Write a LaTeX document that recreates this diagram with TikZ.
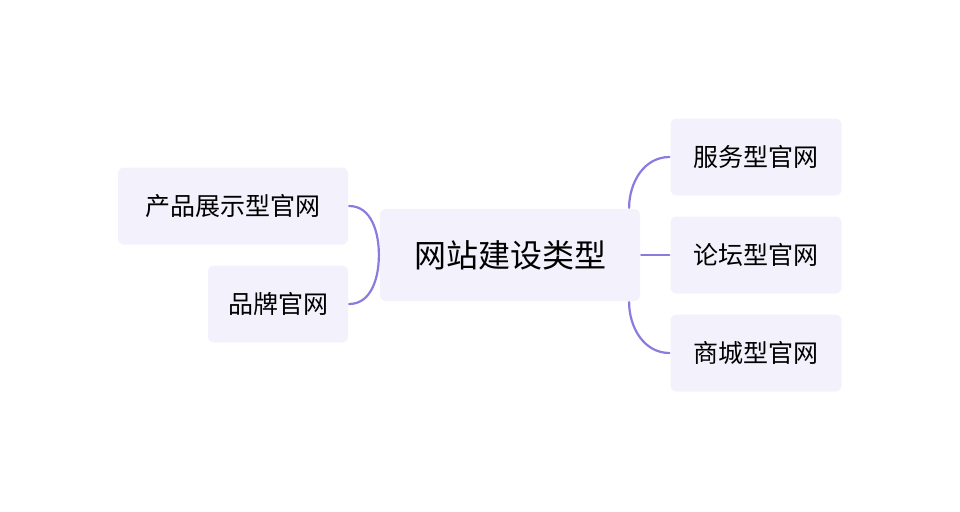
\documentclass[tikz,border=0pt]{standalone}
\usepackage{fontspec}
\newfontfamily\cjk{Noto Sans CJK SC}
\definecolor{boxfill}{HTML}{F3F2FC}
\definecolor{linkcol}{HTML}{8B7BE0}
\begin{document}
\begin{tikzpicture}
    [
      x=1pt, y=-1pt,
      line width=2.2pt,
      topic box/.style={fill=boxfill, rounded corners=6pt, inner sep=0pt, font=\cjk\fontsize{25}{30}\selectfont},
      main box/.style={topic box, font=\cjk\fontsize{32}{38}\selectfont},
      link/.style={draw=linkcol, line cap=round}
    ]
    \useasboundingbox (0,0) rectangle (960,511);
    \node (main) [main box, minimum width=260pt, minimum height=92pt] at (510,255) {网站建设类型};
    \node (show) [topic box, minimum width=230pt, minimum height=77pt] at (233,206) {产品展示型官网};
    \node (brand) [topic box, minimum width=140pt, minimum height=77pt] at (278,304) {品牌官网};
    \node (serve) [topic box, minimum width=171pt, minimum height=77pt] at (756,157) {服务型官网};
    \node (forum) [topic box, minimum width=171pt, minimum height=77pt] at (756,255) {论坛型官网};
    \node (mall) [topic box, minimum width=171pt, minimum height=77pt] at (756,353) {商城型官网};
    \path [link] (show.east) to[out=0, in=90] (main.west);
    \path [link] (brand.east) to[out=0, in=-90] (main.west);
    \path [link] ([xshift=-12pt]main.north east) to[out=90, in=180] (serve.west);
    \path [link] (main.east) -- (forum.west);
    \path [link] ([xshift=-12pt]main.south east) to[out=-90, in=180] (mall.west);
  \end{tikzpicture}
\end{document}
